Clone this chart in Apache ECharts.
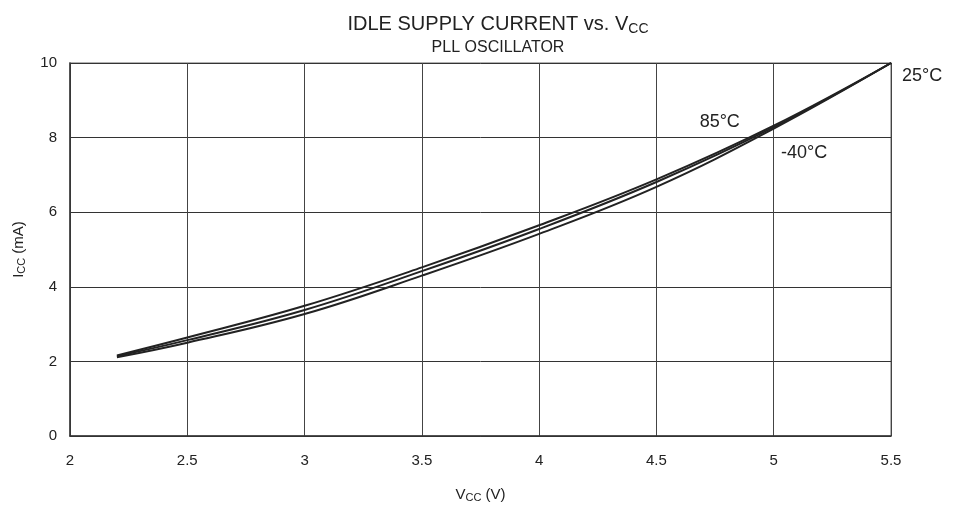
<!DOCTYPE html>
<html>
<head>
<meta charset="utf-8">
<script src="https://cdn.jsdelivr.net/npm/echarts@6/dist/echarts.min.js"></script>
<style>html,body{margin:0;padding:0;background:#fff}#c{width:962px;height:508px}</style>
</head>
<body>
<div id="c"></div>
<script>
var vcc = [2.2, 2.5, 3.0, 3.5, 4.0, 4.5, 5.0, 5.5];
var icc85 = [2.16, 2.64, 3.49, 4.52, 5.65, 6.88, 8.32, 10.0];
var icc25 = [2.14, 2.57, 3.38, 4.42, 5.55, 6.81, 8.28, 10.0];
var iccM40 = [2.11, 2.50, 3.27, 4.30, 5.42, 6.68, 8.24, 10.0];
var xTicks = [2, 2.5, 3, 3.5, 4, 4.5, 5, 5.5];
var yTicks = [0, 2, 4, 6, 8, 10];
var label85 = [4.77, 8.43];
var labelM40 = [5.13, 7.59];

var FONT = '"Liberation Sans", Arial, Helvetica, sans-serif';
function pairs(xs, ys) { return xs.map(function (x, i) { return [x, ys[i]]; }); }
function lineSeries(name, ys, extra) {
  var s = {
    name: name, type: 'line', data: pairs(vcc, ys), smooth: 0.4,
    symbol: 'none', lineStyle: { color: '#222', width: 2 }, z: 5, clip: false
  };
  for (var k in extra) s[k] = extra[k];
  return s;
}
var chart = echarts.init(document.getElementById('c'));
chart.setOption({
  animation: false,
  backgroundColor: '#fff',
  title: [{
    text: 'IDLE SUPPLY CURRENT vs. V{s|CC}', left: 493, textAlign: 'center', top: 8,
    textStyle: { fontFamily: FONT, fontSize: 20, fontWeight: 'normal', color: '#222',
      rich: { s: { fontFamily: FONT, fontSize: 14, color: '#222', padding: [9, 0, 0, 0] } } }
  }, {
    text: 'PLL OSCILLATOR', left: 493, textAlign: 'center', top: 35,
    textStyle: { fontFamily: FONT, fontSize: 16, fontWeight: 'normal', color: '#222' }
  }],
  grid: { left: 70, right: 71, top: 63, bottom: 70, show: true, borderColor: '#999', borderWidth: 1.5 },
  xAxis: {
    type: 'value', min: 2, max: 5.5, interval: 0.5,
    name: '{v|V}{s|CC}{v| (V)}', nameLocation: 'middle', nameGap: 50,
    nameTextStyle: { rich: { v: { fontFamily: FONT, fontSize: 15, color: '#222' }, s: { fontFamily: FONT, fontSize: 11, color: '#222', padding: [6, 0, 0, 0] } } },
    axisLine: { lineStyle: { color: '#333', width: 1.5 } },
    axisTick: { show: false },
    axisLabel: { fontFamily: FONT, fontSize: 15, color: '#222', margin: 17,
      formatter: function (v) { return xTicks.indexOf(v) >= 0 ? String(v) : ''; } },
    splitLine: { show: true, lineStyle: { color: '#444', width: 1 } }
  },
  yAxis: {
    type: 'value', min: 0, max: 10, interval: 2,
    name: '{v|I}{s|CC}{v| (mA)}', nameLocation: 'middle', nameGap: 43, nameRotate: 90,
    nameTextStyle: { rich: { v: { fontFamily: FONT, fontSize: 15, color: '#222' }, s: { fontFamily: FONT, fontSize: 11, color: '#222', padding: [6, 0, 0, 0] } } },
    axisLine: { show: true, lineStyle: { color: '#333', width: 1.5 } },
    axisTick: { show: false },
    axisLabel: { fontFamily: FONT, fontSize: 15, color: '#222', margin: 13,
      formatter: function (v) { return yTicks.indexOf(v) >= 0 ? String(v) : ''; } },
    splitLine: { show: true, lineStyle: { color: '#333', width: 1 } }
  },
  series: [
    lineSeries('85°C', icc85, {
      markPoint: { symbol: 'circle', symbolSize: 0, silent: true,
        label: { show: true, formatter: '85°C', fontFamily: FONT, fontSize: 18, color: '#222', position: 'inside' },
        data: [{ coord: label85 }] }
    }),
    lineSeries('25°C', icc25, {
      endLabel: { show: true, formatter: '25°C', fontFamily: FONT, fontSize: 18, color: '#222', offset: [3, 13] }
    }),
    lineSeries('-40°C', iccM40, {
      markPoint: { symbol: 'circle', symbolSize: 0, silent: true,
        label: { show: true, formatter: '-40°C', fontFamily: FONT, fontSize: 18, color: '#222', position: 'inside' },
        data: [{ coord: labelM40 }] }
    })
  ]
});
</script>
</body>
</html>
